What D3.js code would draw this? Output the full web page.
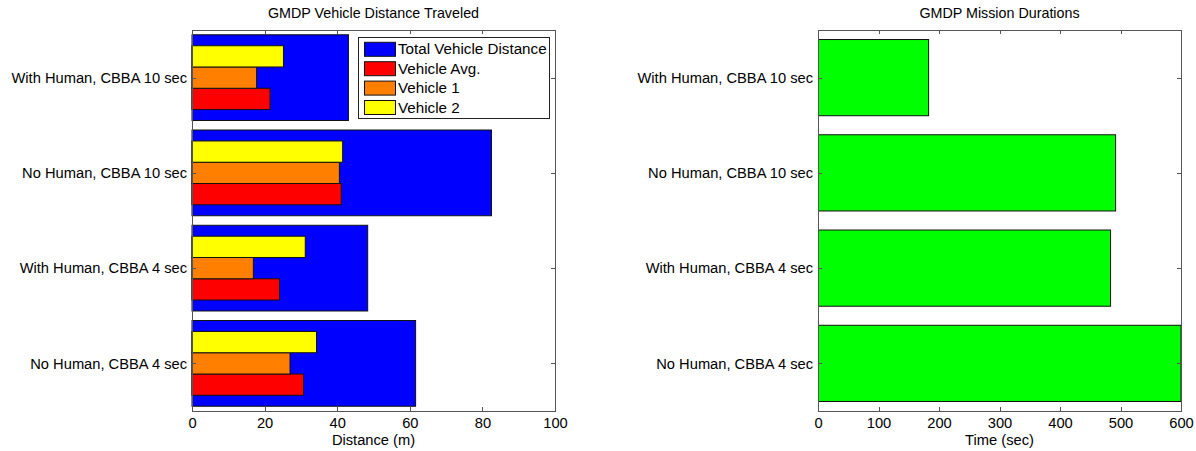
<!DOCTYPE html>
<html>
<head>
<meta charset="utf-8">
<script src="https://cdn.jsdelivr.net/npm/d3@7"></script>
<style>
  html, body { margin: 0; padding: 0; background: #fff; }
  svg { display: block; font-family: "Liberation Sans", Arial, Helvetica, sans-serif; }
</style>
</head>
<body>
<svg id="chart" width="1196" height="451"></svg>
<script>
// Categories listed bottom to top (MATLAB barh order)
const categories = ["No Human, CBBA 4 sec", "With Human, CBBA 4 sec", "No Human, CBBA 10 sec", "With Human, CBBA 10 sec"];
const totalDistance = [61.6, 48.4, 82.5, 43.1];
const vehicleAvg = [30.7, 24.1, 41.1, 21.5];
const vehicle1 = [27.0, 16.9, 40.6, 17.8];
const vehicle2 = [34.3, 31.2, 41.5, 25.2];
const missionDuration = [600, 483.6, 491.9, 182.8];
const distanceTicks = [0, 20, 40, 60, 80, 100];
const timeTicks = [0, 100, 200, 300, 400, 500, 600];
const legendLabels = ["Total Vehicle Distance", "Vehicle Avg.", "Vehicle 1", "Vehicle 2"];

const svg = d3.select("#chart");
const FONT = 14.7;
const TITLE_FONT = 14.3;
const AXIS_COLOR = "#555";
const TICK_LEN = 4;

function drawFrame(g, x, y, xTicks, xLabel, title) {
  const [x0, x1] = x.range();
  const [y0, y1] = y.range(); // y0 bottom, y1 top
  g.append("text").attr("x", (x0 + x1) / 2).attr("y", 18)
    .attr("text-anchor", "middle").attr("font-size", TITLE_FONT).text(title);
  const xAxis = d3.axisBottom(x).tickValues(xTicks).tickSize(0).tickPadding(0).tickFormat(d3.format("d"));
  const gx = g.append("g").attr("transform", `translate(0,${y0})`).call(xAxis);
  gx.select(".domain").remove();
  gx.selectAll("text").attr("font-size", FONT).attr("font-family", "Liberation Sans, Arial, sans-serif")
    .attr("fill", "#000").attr("dy", null).attr("y", 17);
  const yAxis = d3.axisLeft(y).tickValues([1, 2, 3, 4]).tickSize(0).tickPadding(5)
    .tickFormat(d => categories[d - 1]);
  const gy = g.append("g").attr("transform", `translate(${x0},0)`).call(yAxis);
  gy.select(".domain").remove();
  gy.selectAll("text").attr("font-size", FONT).attr("font-family", "Liberation Sans, Arial, sans-serif")
    .attr("fill", "#000");
  g.append("text").attr("x", (x0 + x1) / 2).attr("y", y0 + 34)
    .attr("text-anchor", "middle").attr("font-size", FONT).text(xLabel);
}

function drawBox(g, x, y, xTicks) {
  const [x0, x1] = x.range();
  const [y0, y1] = y.range();
  const bx = g.append("g").attr("stroke", AXIS_COLOR).attr("stroke-width", 1).attr("fill", "none")
    .attr("shape-rendering", "crispEdges");
  bx.append("rect").attr("x", x0).attr("y", y1).attr("width", x1 - x0).attr("height", y0 - y1);
  xTicks.forEach(t => {
    const px = Math.round(x(t)) + 0.5;
    bx.append("line").attr("x1", px).attr("x2", px).attr("y1", y0).attr("y2", y0 - TICK_LEN);
    bx.append("line").attr("x1", px).attr("x2", px).attr("y1", y1).attr("y2", y1 + TICK_LEN);
  });
  [1, 2, 3, 4].forEach(t => {
    const py = Math.round(y(t)) + 0.5;
    bx.append("line").attr("x1", x0).attr("x2", x0 + TICK_LEN).attr("y1", py).attr("y2", py);
    bx.append("line").attr("x1", x1).attr("x2", x1 - TICK_LEN).attr("y1", py).attr("y2", py);
  });
}

// ---------- Left chart ----------
const xL = d3.scaleLinear().domain([0, 100]).range([192, 555]);
const yL = d3.scaleLinear().domain([0.5, 4.5]).range([411, 30]);
const gL = svg.append("g");
drawFrame(gL, xL, yL, distanceTicks, "Distance (m)", "GMDP Vehicle Distance Traveled");

const barStroke = "#111";
function hbar(g, cls, vals, lo, hi, color, x, y) {
  g.selectAll("rect." + cls).data(vals).join("rect").attr("class", cls)
    .attr("x", x(0))
    .attr("y", (d, i) => y(i + 1 + hi))
    .attr("width", d => x(d) - x(0))
    .attr("height", (d, i) => y(i + 1 + lo) - y(i + 1 + hi))
    .attr("fill", color).attr("stroke", barStroke).attr("stroke-width", 1);
}
hbar(gL, "tot", totalDistance, -0.45, 0.45, "#0000ff", xL, yL);
hbar(gL, "avg", vehicleAvg, -0.335, -0.1117, "#ff0000", xL, yL);
hbar(gL, "v1", vehicle1, -0.1117, 0.1117, "#ff8000", xL, yL);
hbar(gL, "v2", vehicle2, 0.1117, 0.335, "#ffff00", xL, yL);
drawBox(gL, xL, yL, distanceTicks);

// legend
const legendColors = ["#0000ff", "#ff0000", "#ff8000", "#ffff00"];
const lg = gL.append("g");
lg.append("rect").attr("x", 358.5).attr("y", 37.5).attr("width", 191).attr("height", 81)
  .attr("fill", "#fff").attr("stroke", "#222").attr("stroke-width", 1);
legendLabels.forEach((lab, i) => {
  const cy = 49.3 + i * 19.4;
  lg.append("rect").attr("x", 364.5).attr("y", cy - 7).attr("width", 31).attr("height", 14)
    .attr("fill", legendColors[i]).attr("stroke", barStroke).attr("stroke-width", 1);
  lg.append("text").attr("x", 398).attr("y", cy + 5).attr("font-size", 15.2).text(lab);
});

// ---------- Right chart ----------
const xR = d3.scaleLinear().domain([0, 600]).range([818, 1181]);
const yR = d3.scaleLinear().domain([0.5, 4.5]).range([411, 30]);
const gR = svg.append("g");
drawFrame(gR, xR, yR, timeTicks, "Time (sec)", "GMDP Mission Durations");
svg.append("clipPath").attr("id", "clipR").append("rect")
  .attr("x", 818).attr("y", 30).attr("width", 363).attr("height", 381);
const gRB = gR.append("g").attr("clip-path", "url(#clipR)");
hbar(gRB, "dur", missionDuration, -0.4, 0.4, "#00ff00", xR, yR);
drawBox(gR, xR, yR, timeTicks);
</script>
</body>
</html>
